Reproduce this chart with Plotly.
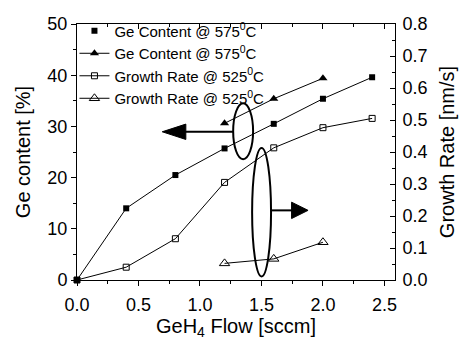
import plotly.graph_objects as go

# ---- data ----
flow_all = [0.0, 0.4, 0.8, 1.2, 1.6, 2.0, 2.4]
ge_575_sq = [0.0, 14.0, 20.5, 25.7, 30.5, 35.4, 39.6]
flow_tri = [1.2, 1.6, 2.0]
ge_575_tri = [30.6, 35.4, 39.4]
gr_525_sq = [0.0, 0.040, 0.129, 0.305, 0.413, 0.476, 0.505]
gr_525_tri = [0.052, 0.066, 0.118]

names = ["Ge Content @ 575<sup>0</sup>C", "Ge Content @ 575<sup>0</sup>C",
         "Growth Rate @ 525<sup>0</sup>C", "Growth Rate @ 525<sup>0</sup>C"]

FONT = "Arial, Liberation Sans, sans-serif"
line = dict(color="black", width=1)

fig = go.Figure()
# series 1: line+markers in plot, marker only in legend
fig.add_trace(go.Scatter(x=flow_all, y=ge_575_sq, mode="lines+markers", line=line,
                         marker=dict(symbol="square", size=6, color="black"),
                         showlegend=False, cliponaxis=False))
fig.add_trace(go.Scatter(x=[None], y=[None], mode="markers", name=names[0],
                         marker=dict(symbol="square", size=6, color="black")))
fig.add_trace(go.Scatter(x=flow_tri, y=ge_575_tri, mode="lines+markers", line=line, name=names[1],
                         marker=dict(symbol="triangle-up", size=8, color="black"), cliponaxis=False))
fig.add_trace(go.Scatter(x=flow_all, y=gr_525_sq, mode="lines+markers", line=line, name=names[2],
                         yaxis="y2",
                         marker=dict(symbol="square-open", size=6, color="black", line=dict(width=1)),
                         cliponaxis=False))
fig.add_trace(go.Scatter(x=flow_tri, y=gr_525_tri, mode="lines+markers", line=line, name=names[3],
                         yaxis="y2",
                         marker=dict(symbol="triangle-up-open", size=9, color="black", line=dict(width=1)),
                         cliponaxis=False))
# dummy for top axis
fig.add_trace(go.Scatter(x=[None], y=[None], xaxis="x2", showlegend=False))

# ellipses and arrows (annotation graphics, in data coordinates of left axis)
shapes = [
    dict(type="circle", xref="x", yref="y", x0=1.270, x1=1.432, y0=23.6, y1=34.5,
         line=dict(color="black", width=2)),
    dict(type="circle", xref="x", yref="y", x0=1.424, x1=1.578, y0=0.7, y1=25.8,
         line=dict(color="black", width=2)),
    dict(type="line", xref="x", yref="y", x0=1.270, x1=0.85, y0=28.95, y1=28.95,
         line=dict(color="black", width=2)),
    dict(type="path", xref="x", yref="y", path="M 0.693 28.95 L 0.885 30.45 L 0.885 27.45 Z",
         fillcolor="black", line=dict(color="black", width=1)),
    dict(type="line", xref="x", yref="y", x0=1.578, x1=1.76, y0=13.6, y1=13.6,
         line=dict(color="black", width=2)),
    dict(type="path", xref="x", yref="y", path="M 1.879 13.6 L 1.745 15.2 L 1.745 12.0 Z",
         fillcolor="black", line=dict(color="black", width=1)),
]

axis_common = dict(showline=True, linecolor="black", linewidth=1, showgrid=False,
                   zeroline=False, tickcolor="black", automargin=False,
                   tickfont=dict(family=FONT, size=18, color="black"))

fig.update_layout(
    width=462, height=340,
    margin=dict(l=77, r=67, t=24, b=60, autoexpand=False),
    plot_bgcolor="white", paper_bgcolor="white",
    font=dict(family=FONT, color="black"),
    shapes=shapes,
    xaxis=dict(range=[0, 2.586], tickvals=[0, 0.5, 1.0, 1.5, 2.0, 2.5],
               ticktext=["0.0", "0.5", "1.0", "1.5", "2.0", "2.5"],
               ticks="outside", ticklen=5, ticklabelstandoff=3,
               minor=dict(ticks="outside", ticklen=3, dtick=0.25, tickcolor="black"),
               title=dict(text="GeH<sub>4</sub> Flow [sccm]", font=dict(family=FONT, size=20), standoff=11),
               **axis_common),
    xaxis2=dict(range=[0, 2.586], overlaying="x", side="top", tickvals=[0, 0.5, 1.0, 1.5, 2.0, 2.5],
                ticks="inside", ticklen=5, showticklabels=False,
                minor=dict(ticks="inside", ticklen=3, dtick=0.25, tickcolor="black"),
                **axis_common),
    yaxis=dict(range=[0, 50], tickvals=[0, 10, 20, 30, 40, 50],
               ticks="outside", ticklen=5,
               minor=dict(ticks="outside", ticklen=3, dtick=5, tickcolor="black"),
               title=dict(text="Ge content [%]", font=dict(family=FONT, size=20), standoff=11),
               **axis_common),
    yaxis2=dict(range=[0, 0.8], overlaying="y", side="right",
                tickvals=[0, 0.1, 0.2, 0.3, 0.4, 0.5, 0.6, 0.7, 0.8],
                ticktext=["0.0", "0.1", "0.2", "0.3", "0.4", "0.5", "0.6", "0.7", "0.8"],
                ticks="inside", ticklen=5, ticklabelstandoff=3,
                minor=dict(ticks="inside", ticklen=3, dtick=0.05, tickcolor="black"),
                title=dict(text="Growth Rate [nm/s]", font=dict(family=FONT, size=20), standoff=13),
                **axis_common),
    legend=dict(x=-0.008, y=1.037, xanchor="left", yanchor="top", bgcolor="rgba(0,0,0,0)",
                font=dict(family=FONT, size=15, color="black"), itemwidth=30,
                tracegroupgap=0, borderwidth=0),
)

fig.write_html("out.html")
